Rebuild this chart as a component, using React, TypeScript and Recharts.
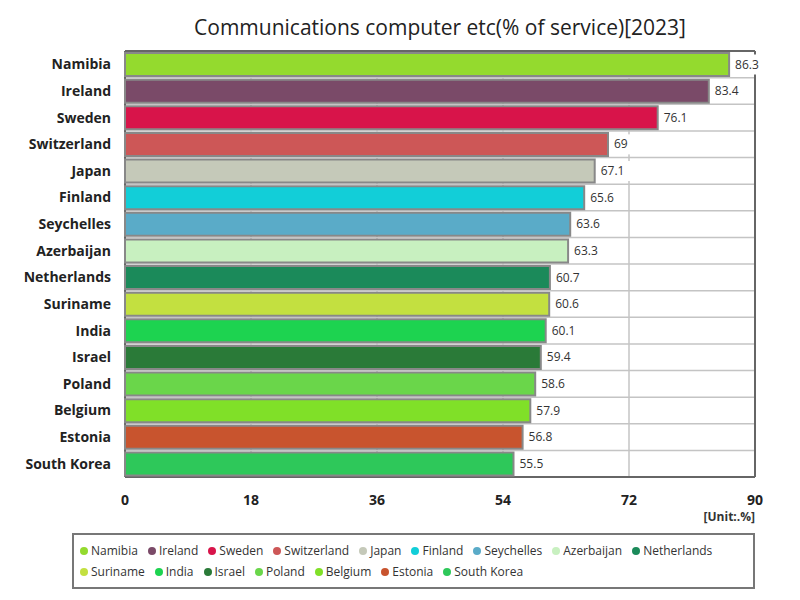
import React from "react";
import { Bar, BarChart, CartesianGrid, Cell, LabelList, Legend, XAxis, YAxis } from "recharts";

const countries = [
  "Namibia", "Ireland", "Sweden", "Switzerland", "Japan", "Finland", "Seychelles", "Azerbaijan",
  "Netherlands", "Suriname", "India", "Israel", "Poland", "Belgium", "Estonia", "South Korea",
];
const shares = [86.3, 83.4, 76.1, 69, 67.1, 65.6, 63.6, 63.3, 60.7, 60.6, 60.1, 59.4, 58.6, 57.9, 56.8, 55.5];
const colors = [
  "#94da2e", "#7a4a68", "#d8144a", "#cd5757", "#c5c9b9", "#12ced8", "#5aabc8", "#c8f0c0",
  "#1b8a5a", "#c3e040", "#1dd350", "#2a7a38", "#6ad64a", "#80e028", "#c8542e", "#2ec85a",
];
const xTicks = [0, 18, 36, 54, 72, 90];

const data = countries.map((name, i) => ({ name, value: shares[i], color: colors[i] }));

const FONT = "'Open Sans', 'Noto Sans', sans-serif";

function ValueLabel(props: any) {
  const { x, y, width, height, value } = props;
  const tx = x + width + 3;
  const ty = y + height / 2;
  const w = String(value).length * 7 + 6;
  return (
    <g>
      <rect x={tx} y={ty - 10} width={w} height={20} fill="#fff" />
      <text x={tx + 3} y={ty + 4} fontSize={12} fill="#333" fontFamily={FONT}>
        {value}
      </text>
    </g>
  );
}

function LegendBox() {
  return (
    <div
      style={{
        border: "2px solid #777",
        boxSizing: "border-box",
        width: 683,
        height: 56,
        padding: "6px 6px",
        display: "flex",
        flexWrap: "wrap",
        columnGap: 10,
        rowGap: 2,
        fontFamily: FONT,
        fontSize: 12,
        color: "#333",
      }}
    >
      {data.map((d) => (
        <span key={d.name} style={{ display: "inline-flex", alignItems: "center", lineHeight: "19px" }}>
          <span
            style={{ width: 8, height: 8, borderRadius: 4, background: d.color, display: "inline-block", marginRight: 3 }}
          />
          {d.name}
        </span>
      ))}
    </div>
  );
}

const bandLines = ({ offset }: any) =>
  countries.map((_, i) => offset.top + (i * offset.height) / countries.length).concat(offset.top + offset.height);

export default function App() {
  return (
    <div style={{ position: "relative", width: 800, height: 600, background: "#fff", fontFamily: FONT }}>
      <style>{`body{margin:0}`}</style>
      <div
        style={{
          position: "absolute",
          left: 125,
          width: 630,
          top: 13,
          textAlign: "center",
          fontSize: 21,
          color: "#222",
        }}
      >
        Communications computer etc(% of service)[2023]
      </div>
      <BarChart
        width={800}
        height={600}
        data={data}
        layout="vertical"
        barCategoryGap={2}
        margin={{ top: 51, right: 45, left: 8, bottom: 83 }}
      >
        <CartesianGrid stroke="#c4c4c4" strokeWidth={1.5} horizontalCoordinatesGenerator={bandLines} />
        <XAxis
          type="number"
          domain={[0, 90]}
          ticks={xTicks}
          tickLine={false}
          axisLine={false}
          tick={{ fill: "#222", fontSize: 14, fontWeight: 700, fontFamily: FONT }}
          tickMargin={12}
          height={40}
        />
        <YAxis
          type="category"
          dataKey="name"
          width={117}
          tickLine={false}
          axisLine={false}
          tick={{ fill: "#222", fontSize: 14, fontWeight: 700, fontFamily: FONT }}
          tickMargin={8}
        />
        <Bar dataKey="value" stroke="#888" strokeWidth={2} isAnimationActive={false}>
          {data.map((d) => (
            <Cell key={d.name} fill={d.color} />
          ))}
          <LabelList dataKey="value" content={<ValueLabel />} />
        </Bar>
        <CartesianGrid
          stroke="#666"
          strokeWidth={2}
          fill="none"
          horizontalCoordinatesGenerator={({ offset }: any) => [offset.top, offset.top + offset.height]}
          verticalCoordinatesGenerator={({ offset }: any) => [offset.left, offset.left + offset.width]}
        />
        <Legend
          verticalAlign="middle"
          layout="horizontal"
          wrapperStyle={{ top: 533, left: 72, width: 683 }}
          content={() => <LegendBox />}
        />
      </BarChart>
      <div
        style={{
          position: "absolute",
          right: 45,
          top: 508,
          fontSize: 12,
          fontWeight: 700,
          color: "#333",
        }}
      >
        [Unit:.%]
      </div>
    </div>
  );
}
